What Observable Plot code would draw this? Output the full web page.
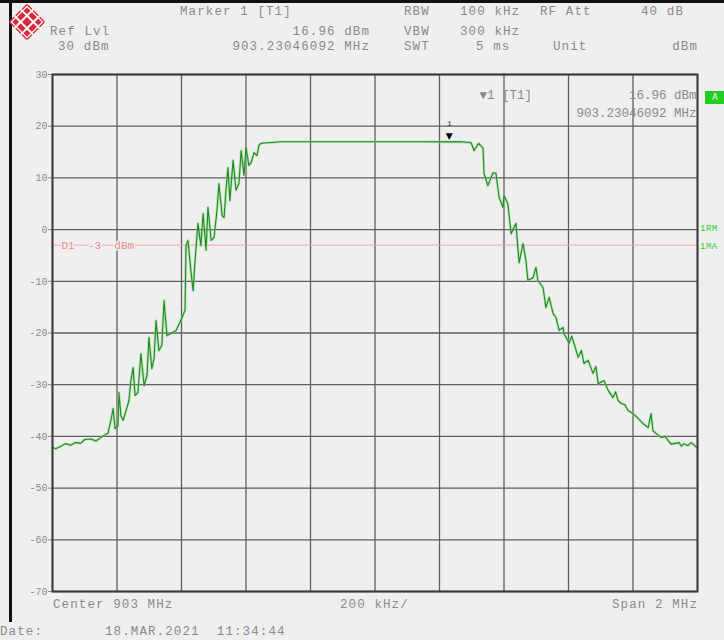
<!DOCTYPE html>
<html>
<head>
<meta charset="utf-8">
<script src="https://cdn.jsdelivr.net/npm/d3@7"></script>
<script src="https://cdn.jsdelivr.net/npm/@observablehq/plot@0.6"></script>
<style>
  html, body { margin: 0; padding: 0; background: #efefef; }
  #wrap { position: relative; width: 724px; height: 640px; background: #efefef; overflow: hidden; }
  #wrap svg.chart { position: absolute; left: 0; top: 0; }
  .t { position: absolute; font-family: "Liberation Mono", "DejaVu Sans Mono", monospace; font-size: 12.5px;
       letter-spacing: 1.1px; color: #8a8a8a; line-height: 16px; white-space: pre; }
  .r { text-align: right; }
  .g { color: #33cc33; font-size: 9px; letter-spacing: 0.5px; }
  #topbar { position: absolute; left: 0; top: 0; width: 724px; height: 3px; background: #111; }
  #leftbar { position: absolute; left: 9px; top: 0; width: 3px; height: 622px; background: #111; }
  #abox { position: absolute; left: 705px; top: 91px; width: 20px; height: 13px; background: #22cc22;
          color: #fff; font: 8px "DejaVu Sans", sans-serif; text-align: center; line-height: 13px; }
</style>
</head>
<body>
<div id="wrap">
  <div id="topbar"></div>
  <div id="leftbar"></div>
</div>
<script>
// ---- data ----
const centerMHz = 903;
const spanMHz = 2;
const xGrid = [902.0, 902.2, 902.4, 902.6, 902.8, 903.0, 903.2, 903.4, 903.6, 903.8, 904.0];
const yTicks = [30, 20, 10, 0, -10, -20, -30, -40, -50, -60, -70];
const displayLineDbm = -3;
const markerFreqMHz = 903.23046092;
const markerLevelDbm = 16.96;

const freqMHz = [
  902.000, 902.010, 902.026, 902.040, 902.057, 902.070, 902.088, 902.100, 902.119, 902.135,
  902.150, 902.160, 902.172, 902.181, 902.188, 902.194, 902.203, 902.206, 902.212, 902.219,
  902.228, 902.237, 902.243, 902.250, 902.256, 902.265, 902.274, 902.284, 902.293, 902.299,
  902.308, 902.315, 902.321, 902.330, 902.339, 902.346, 902.355, 902.367, 902.383, 902.398,
  902.411, 902.414, 902.420, 902.429, 902.436, 902.442, 902.451, 902.460, 902.467, 902.476,
  902.482, 902.492, 902.501, 902.510, 902.516, 902.526, 902.532, 902.538, 902.544, 902.550,
  902.560, 902.569, 902.578, 902.585, 902.594, 902.600, 902.609, 902.616, 902.625, 902.634,
  902.640, 902.647, 902.668, 902.709, 902.833, 903.000, 903.143, 903.230, 903.267,
  903.285, 903.298, 903.307, 903.322, 903.335, 903.338, 903.350, 903.366, 903.375, 903.385,
  903.397, 903.400, 903.412, 903.422, 903.437, 903.443, 903.447, 903.459, 903.468, 903.474,
  903.490, 903.499, 903.505, 903.521, 903.530, 903.540, 903.552, 903.561, 903.571, 903.583,
  903.586, 903.602, 903.610, 903.617, 903.630, 903.640, 903.648, 903.661, 903.676, 903.685,
  903.692, 903.710, 903.723, 903.738, 903.746, 903.754, 903.763, 903.775, 903.785, 903.800,
  903.816, 903.831, 903.847, 903.856, 903.862, 903.875, 903.887, 903.900, 903.909, 903.918,
  903.927, 903.943, 903.950, 903.958, 903.970, 903.980, 903.990, 904.000
];
const levelDbm = [
  -42.1, -42.4, -41.9, -41.4, -41.7, -41.2, -41.3, -40.6, -40.5, -40.9,
  -40.2, -39.8, -39.4, -36.9, -34.6, -38.5, -37.9, -31.5, -36.0, -36.9,
  -35.0, -33.1, -29.2, -26.7, -32.1, -31.5, -24.0, -30.2, -28.2, -20.9,
  -26.9, -24.9, -17.6, -23.4, -22.4, -13.7, -20.5, -20.1, -19.5, -17.6,
  -15.6, -3.1, -2.1, -7.9, -11.8, -6.0, 1.2, -3.1, 3.1, -4.0,
  4.3, -2.1, -1.5, 3.7, 8.9, 2.7, 2.3, 7.6, 12.0, 5.6,
  13.4, 7.6, 8.9, 15.3, 10.5, 15.9, 12.4, 13.0, 14.9, 14.3,
  16.3, 16.7, 16.8, 17.0, 17.0, 17.0, 17.0, 16.96, 17.0,
  16.9, 16.8, 15.3, 16.7, 15.7, 10.9, 8.5, 11.0, 10.9, 6.2,
  4.3, 6.6, 5.0, -0.8, 1.2, -3.5, -6.4, -2.7, -6.0, -9.8,
  -9.3, -7.3, -9.8, -11.2, -15.1, -13.1, -16.2, -17.0, -19.5, -18.9,
  -20.1, -22.0, -20.6, -22.0, -24.7, -23.4, -25.9, -25.3, -27.8, -26.5,
  -29.8, -29.2, -31.1, -32.5, -31.4, -33.1, -33.6, -33.9, -35.0, -35.6,
  -36.5, -37.5, -38.3, -35.6, -38.9, -39.6, -40.2, -40.0, -40.8, -41.5,
  -41.4, -41.2, -41.9, -41.4, -41.8, -41.2, -41.7, -42.3
];

const trace = freqMHz.map((f, i) => ({f, v: levelDbm[i]}));

// ---- header / footer texts ----
const headerTexts = [
  {s: "Marker 1 [T1]", left: 180, cy: 12},
  {s: "RBW", left: 404, cy: 12},
  {s: "100 kHz", left: 460, cy: 12},
  {s: "RF Att", left: 540, cy: 12},
  {s: "40 dB", left: 641, cy: 12},
  {s: "Ref Lvl", left: 50, cy: 32},
  {s: "16.96 dBm", right: 370, cy: 32},
  {s: "VBW", left: 404, cy: 32},
  {s: "300 kHz", left: 460, cy: 32},
  {s: "30 dBm", left: 58, cy: 47},
  {s: "903.23046092 MHz", right: 370, cy: 47},
  {s: "SWT", left: 404, cy: 47},
  {s: "5 ms", left: 476, cy: 47},
  {s: "Unit", left: 553, cy: 47},
  {s: "dBm", right: 698, cy: 47},
  {s: "Center 903 MHz", left: 53, cy: 605},
  {s: "200 kHz/", left: 340, cy: 605},
  {s: "Span 2 MHz", right: 698, cy: 605},
  {s: "Date:", left: 0, cy: 632},
  {s: "18.MAR.2021  11:34:44", left: 105, cy: 632}
];

const mono = "Liberation Mono, DejaVu Sans Mono, monospace";

const chart = Plot.plot({
  width: 724,
  height: 640,
  marginLeft: 52,
  marginRight: 27,
  marginTop: 74,
  marginBottom: 49,
  style: {background: "transparent", fontFamily: mono, fontSize: "10px", color: "#8a8a8a", overflow: "visible"},
  x: {domain: [centerMHz - spanMHz / 2, centerMHz + spanMHz / 2], axis: null},
  y: {domain: [-70, 30], ticks: yTicks, tickFormat: d => String(d), tickSize: 4, tickPadding: 1, label: null},
  marks: [
    Plot.ruleX(xGrid, {stroke: "#5f5f5f", strokeWidth: 1.3}),
    Plot.ruleY(yTicks, {stroke: "#5f5f5f", strokeWidth: 1.3}),
    Plot.ruleY([displayLineDbm], {stroke: "#f2a6a6", strokeWidth: 1}),
    Plot.text([`D1  ${displayLineDbm}  dBm`], {x: centerMHz - spanMHz / 2, y: displayLineDbm, dx: 9, textAnchor: "start",
      fill: "#f08a8a", stroke: "#efefef", strokeWidth: 3, fontSize: 11, fontFamily: mono}),
    Plot.line(trace, {x: "f", y: "v", stroke: "#8fd98f", strokeWidth: 2.6, strokeOpacity: 0.6}),
    Plot.line(trace, {x: "f", y: "v", stroke: "#1f8a1f", strokeWidth: 1.1}),
    Plot.frame({stroke: "#3a3a3a", strokeWidth: 2}),
    Plot.text([markerLevelDbm], {x: markerFreqMHz, y: d => d, text: () => "▼", dy: -6, fill: "#000", fontSize: 9,
      fontFamily: "DejaVu Sans"}),
    Plot.text([markerLevelDbm], {x: markerFreqMHz, y: d => d, text: () => "1", dy: -18, fill: "#333", fontSize: 8,
      fontFamily: mono}),
    Plot.text(["▼1 [T1]"], {frameAnchor: "top-left", dx: 427, dy: 16, textAnchor: "start", fill: "#8a8a8a",
      fontSize: 12.5, fontFamily: mono}),
    Plot.text([`${markerLevelDbm} dBm`], {frameAnchor: "top-right", dx: -1, dy: 16, textAnchor: "end", fill: "#8a8a8a",
      fontSize: 12.5, fontFamily: mono}),
    Plot.text([`${markerFreqMHz} MHz`], {frameAnchor: "top-right", dx: -1, dy: 34, textAnchor: "end", fill: "#8a8a8a",
      fontSize: 12.5, fontFamily: mono})
  ]
});
chart.classList.add("chart");

const wrap = document.getElementById("wrap");
wrap.insertBefore(chart, wrap.firstChild);

// letter spacing for in-plot texts to mimic instrument font
d3.select(chart).selectAll("text").filter(function() {
  return this.getAttribute("font-size") === "12.5";
}).style("letter-spacing", "1.1px");

for (const h of headerTexts) {
  const d = document.createElement("div");
  d.className = "t" + (h.right != null ? " r" : "");
  d.textContent = h.s;
  d.style.top = (h.cy - 8) + "px";
  if (h.right != null) { d.style.right = (724 - h.right) + "px"; } else { d.style.left = h.left + "px"; }
  wrap.appendChild(d);
}

// right-edge status labels
const sideLabels = [{s: "1RM", cy: 229}, {s: "1MA", cy: 247}];
for (const s of sideLabels) {
  const d = document.createElement("div");
  d.className = "t g";
  d.textContent = s.s;
  d.style.left = "700px";
  d.style.top = (s.cy - 8) + "px";
  wrap.appendChild(d);
}
const ab = document.createElement("div");
ab.id = "abox"; ab.textContent = "A";
wrap.appendChild(ab);

// instrument logo
const logo = d3.select(wrap).append("svg")
  .attr("width", 46).attr("height", 44)
  .style("position", "absolute").style("left", "4px").style("top", "2px");
const g = logo.append("g").attr("transform", "translate(23,20) rotate(45)");
g.append("rect").attr("x", -13).attr("y", -13).attr("width", 26).attr("height", 26)
  .attr("fill", "#d8283a").attr("rx", 2);
for (const p of [-4.5, 4.5]) {
  g.append("line").attr("x1", p).attr("x2", p).attr("y1", -13).attr("y2", 13).attr("stroke", "#fff").attr("stroke-width", 2);
  g.append("line").attr("y1", p).attr("y2", p).attr("x1", -13).attr("x2", 13).attr("stroke", "#fff").attr("stroke-width", 2);
}
g.append("rect").attr("x", -11).attr("y", -11).attr("width", 22).attr("height", 22)
  .attr("fill", "none").attr("stroke", "#fff").attr("stroke-width", 1.2);
</script>
</body>
</html>
